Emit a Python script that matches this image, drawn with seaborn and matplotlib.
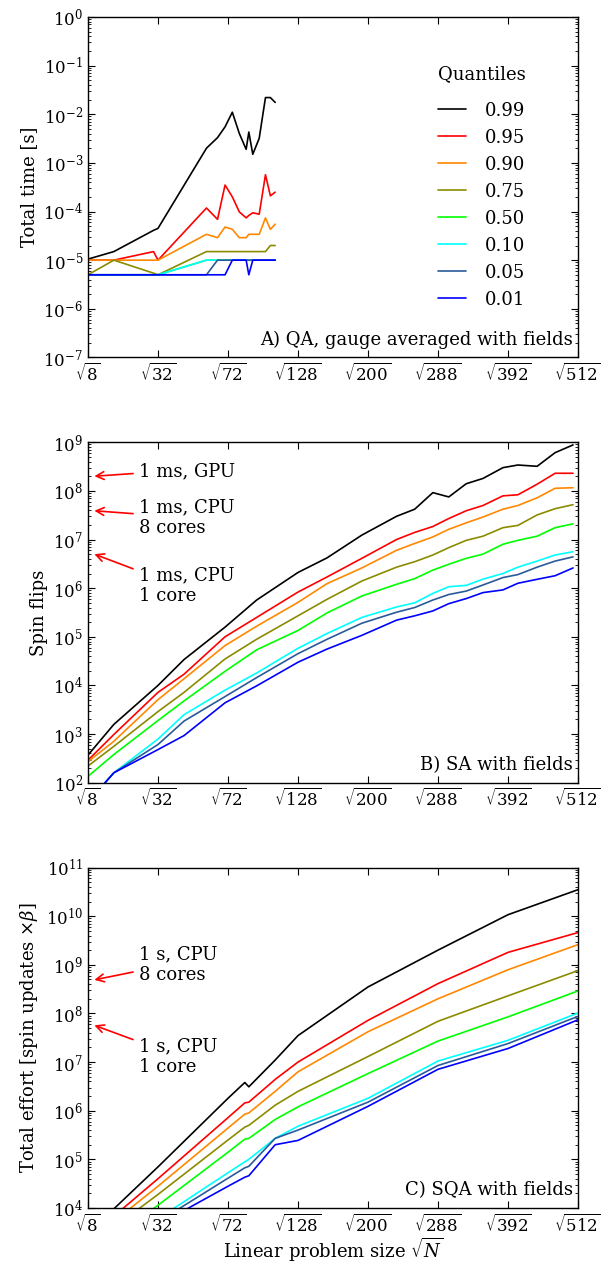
import numpy as np
import pandas as pd
import matplotlib
matplotlib.use("Agg")
import matplotlib.pyplot as plt
from matplotlib.ticker import LogLocator, NullLocator, NullFormatter
import seaborn as sns

# Quantile levels and colours
quantiles = ["0.99", "0.95", "0.90", "0.75", "0.50", "0.10", "0.05", "0.01"]
colors = ["#000000", "#ff0000", "#ff8800", "#8b8b00", "#00ff00", "#00ffff", "#2a5a9a", "#0000ff"]

# --- A) QA, gauge averaged with fields ---
qa_N = [8, 15, 30, 32, 58, 65, 70, 75, 80, 85, 87, 90, 95, 100, 104, 108]
qa_q99 = [1.05e-5, 1.5e-5, 4.1e-5, 4.5e-5, 2.0e-3, 3.3e-3, 5.5e-3, 1.1e-2, 4.0e-3, 1.9e-3, 4.3e-3, 1.5e-3, 3.2e-3, 2.2e-2, 2.2e-2, 1.75e-2]
qa_q95 = [1e-5, 1e-5, 1.5e-5, 1e-5, 1.18e-4, 6.9e-5, 3.5e-4, 2.0e-4, 9.8e-5, 7.4e-5, 8.3e-5, 9.4e-5, 8.8e-5, 5.7e-4, 2.1e-4, 2.5e-4]
qa_q90 = [1e-5, 1e-5, 1e-5, 1e-5, 3.4e-5, 2.9e-5, 4.8e-5, 4.3e-5, 2.9e-5, 2.9e-5, 3.4e-5, 3.4e-5, 3.4e-5, 7.4e-5, 4.3e-5, 5.5e-5]
qa_q75 = [5e-6, 1e-5, 5.4e-6, 5e-6, 1.5e-5, 1.5e-5, 1.5e-5, 1.5e-5, 1.5e-5, 1.5e-5, 1.5e-5, 1.5e-5, 1.5e-5, 1.5e-5, 2e-5, 2e-5]
qa_q50 = [5e-6, 5e-6, 5e-6, 5e-6, 1e-5, 1e-5, 1e-5, 1e-5, 1e-5, 1e-5, 1e-5, 1e-5, 1e-5, 1e-5, 1e-5, 1e-5]
qa_q10 = [5e-6, 5e-6, 5e-6, 5e-6, 1e-5, 1e-5, 1e-5, 1e-5, 1e-5, 1e-5, 1e-5, 1e-5, 1e-5, 1e-5, 1e-5, 1e-5]
qa_q05 = [5e-6, 5e-6, 5e-6, 5e-6, 5e-6, 1e-5, 1e-5, 1e-5, 1e-5, 1e-5, 1e-5, 1e-5, 1e-5, 1e-5, 1e-5, 1e-5]
qa_q01 = [5e-6, 5e-6, 5e-6, 5e-6, 5e-6, 5e-6, 5e-6, 1e-5, 1e-5, 1e-5, 5e-6, 1e-5, 1e-5, 1e-5, 1e-5, 1e-5]

# --- B) SA with fields ---
sa_N = [8, 15, 32, 45, 70, 93, 128, 156, 193, 234, 257, 281, 303, 328, 353, 384, 408, 440, 471, 503]
sa_q99 = [370, 1.58e3, 1.0e4, 3.4e4, 1.58e5, 5.7e5, 2.1e6, 4.2e6, 1.23e7, 3.0e7, 4.2e7, 9.2e7, 7.5e7, 1.4e8, 1.8e8, 3.0e8, 3.4e8, 3.2e8, 6.1e8, 8.8e8]
sa_q95 = [290, 980, 7.2e3, 1.7e4, 1.0e5, 2.5e5, 8.3e5, 1.7e6, 4.1e6, 1.0e7, 1.4e7, 1.85e7, 2.7e7, 3.9e7, 5.0e7, 7.9e7, 8.3e7, 1.37e8, 2.3e8, 2.3e8]
sa_q90 = [270, 710, 5.1e3, 1.37e4, 6.6e4, 1.65e5, 5.1e5, 1.24e6, 2.6e6, 6.0e6, 8.3e6, 1.13e7, 1.62e7, 2.2e7, 2.9e7, 4.2e7, 5.0e7, 7.2e7, 1.13e8, 1.16e8]
sa_q75 = [220, 560, 2.9e3, 7.2e3, 3.5e4, 8.9e4, 2.7e5, 5.9e5, 1.4e6, 2.7e6, 3.5e6, 4.8e6, 6.8e6, 9.6e6, 1.17e7, 1.75e7, 1.95e7, 3.2e7, 4.3e7, 5.2e7]
sa_q50 = [135, 380, 1.9e3, 4.8e3, 1.95e4, 5.4e4, 1.35e5, 3.1e5, 6.9e5, 1.2e6, 1.57e6, 2.35e6, 3.1e6, 4.1e6, 5.0e6, 8.0e6, 9.6e6, 1.17e7, 1.75e7, 2.1e7]
sa_q10 = [40, 160, 7.9e2, 2.5e3, 8.0e3, 1.8e4, 5.8e4, 1.17e5, 2.5e5, 4.1e5, 5.0e5, 7.8e5, 1.07e6, 1.14e6, 1.53e6, 2.0e6, 2.7e6, 3.6e6, 4.8e6, 5.6e6]
sa_q05 = [40, 160, 6.1e2, 1.85e3, 5.9e3, 1.45e4, 4.5e4, 8.9e4, 1.9e5, 3.2e5, 4.0e5, 5.7e5, 7.4e5, 8.7e5, 1.16e6, 1.65e6, 1.9e6, 2.7e6, 3.6e6, 4.4e6]
sa_q01 = [40, 160, 4.8e2, 9.3e2, 4.4e3, 9.8e3, 3.0e4, 5.6e4, 1.07e5, 2.2e5, 2.7e5, 3.4e5, 4.8e5, 6.1e5, 8.1e5, 9.2e5, 1.26e6, 1.52e6, 1.8e6, 2.6e6]

# --- C) SQA with fields ---
sqa_N = [8, 32, 72, 84, 87, 108, 128, 200, 288, 392, 512]
sqa_q99 = [3.0e3, 7.0e4, 1.8e6, 3.8e6, 3.1e6, 1.1e7, 3.5e7, 3.5e8, 2.0e9, 1.07e10, 3.5e10]
sqa_q95 = [2.4e3, 4.0e4, 7.2e5, 1.45e6, 1.5e6, 4.4e6, 1.0e7, 7.2e7, 4.1e8, 1.8e9, 4.6e9]
sqa_q90 = [2.0e3, 2.8e4, 4.4e5, 8.5e5, 9.0e5, 2.5e6, 6.3e6, 4.2e7, 2.0e8, 7.9e8, 2.6e9]
sqa_q75 = [1.6e3, 1.9e4, 2.5e5, 4.6e5, 5.0e5, 1.3e6, 2.5e6, 1.3e7, 6.9e7, 2.3e8, 7.6e8]
sqa_q50 = [1.0e3, 1.14e4, 1.4e5, 2.6e5, 2.7e5, 6.6e5, 1.2e6, 5.8e6, 2.7e7, 8.5e7, 2.9e8]
sqa_q10 = [7.4e2, 6.0e3, 5.3e4, 8.9e4, 1.0e5, 2.7e5, 4.8e5, 1.8e6, 1.05e7, 2.8e7, 1.02e8]
sqa_q05 = [7.0e2, 5.2e3, 4.1e4, 6.7e4, 7.2e4, 2.7e5, 4.0e5, 1.5e6, 8.5e6, 2.4e7, 8.7e7]
sqa_q01 = [6.0e2, 4.5e3, 2.8e4, 4.3e4, 4.6e4, 2.0e5, 2.45e5, 1.23e6, 7.1e6, 1.9e7, 7.4e7]

# x ticks: N = 8 L^2
tick_N = [8, 32, 72, 128, 200, 288, 392, 512]

# Arrow annotations (head value on y axis, arrow tail, text centre)
sa_notes = ["1 ms, GPU", "1 ms, CPU\n8 cores", "1 ms, CPU\n1 core"]
sa_head = [2.0e8, 3.9e7, 5.0e6]
sa_tail = [2.27e8, 3.4e7, 2.5e6]
sa_text = [2.5e8, 2.8e7, 1.11e6]
sqa_notes = ["1 s, CPU\n8 cores", "1 s, CPU\n1 core"]
sqa_head = [4.9e8, 5.7e7]
sqa_tail = [7.1e8, 2.9e7]
sqa_text = [1.02e9, 1.3e7]

sns.set_style("ticks")
plt.rcParams.update({
    'font.family': ['DejaVu Serif'],
    'mathtext.fontset': 'dejavuserif',
    'font.size': 13,
    'xtick.labelsize': 12, 'ytick.labelsize': 12,
    'axes.linewidth': 1.0,
    'xtick.direction': 'in', 'ytick.direction': 'in',
    'xtick.top': True, 'ytick.right': True,
    'xtick.major.size': 5, 'ytick.major.size': 5,
    'ytick.minor.size': 2.5, 'xtick.major.pad': 4,
    'xtick.color': 'black', 'ytick.color': 'black',
    'axes.edgecolor': 'black', 'text.color': 'black', 'axes.labelcolor': 'black',
})


def long_frame(N, series):
    rows = []
    for q, vals in zip(quantiles, series):
        for n, v in zip(N, vals):
            rows.append({'x': np.sqrt(n), 'value': v, 'Quantile': q})
    return pd.DataFrame(rows)


panels = [
    (qa_N, [qa_q99, qa_q95, qa_q90, qa_q75, qa_q50, qa_q10, qa_q05, qa_q01],
     (1e-7, 1e0), "Total time [s]", "A) QA, gauge averaged with fields"),
    (sa_N, [sa_q99, sa_q95, sa_q90, sa_q75, sa_q50, sa_q10, sa_q05, sa_q01],
     (1e2, 1e9), "Spin flips", "B) SA with fields"),
    (sqa_N, [sqa_q99, sqa_q95, sqa_q90, sqa_q75, sqa_q50, sqa_q10, sqa_q05, sqa_q01],
     (1e4, 1e11), r"Total effort [spin updates $\times\beta$]", "C) SQA with fields"),
]

fig, axes = plt.subplots(3, 1, figsize=(6.01, 12.64), dpi=100)
fig.subplots_adjust(left=0.1464, right=0.9617, top=0.9866, bottom=0.0443, hspace=0.249)
palette = dict(zip(quantiles, colors))

for ax, (N, series, ylim, ylabel, tag) in zip(axes, panels):
    df = long_frame(N, series)
    sns.lineplot(data=df, x='x', y='value', hue='Quantile', hue_order=quantiles,
                 palette=palette, estimator=None, sort=False, linewidth=1.2,
                 legend=False, ax=ax)
    ax.set_yscale('log')
    ax.set_ylim(*ylim)
    ax.set_xlim(np.sqrt(8), np.sqrt(512))
    ax.yaxis.set_major_locator(LogLocator(base=10, numticks=20))
    ax.yaxis.set_minor_locator(LogLocator(base=10, subs=np.arange(2, 10), numticks=20))
    ax.yaxis.set_minor_formatter(NullFormatter())
    ax.set_xticks(np.sqrt(tick_N))
    ax.set_xticklabels([rf"$\sqrt{{{n}}}$" for n in tick_N])
    ax.xaxis.set_minor_locator(NullLocator())
    ax.set_ylabel(ylabel)
    ax.set_xlabel("")
    ax.text(0.99, 0.052, tag, transform=ax.transAxes, ha='right', va='center')
    for s in ax.spines.values():
        s.set_visible(True)

# Legend in panel A
leg = axes[0].legend(axes[0].get_lines()[:len(quantiles)], quantiles, title="Quantiles",
                     loc='center left', bbox_to_anchor=(0.70, 0.50), borderaxespad=0,
                     frameon=False, handlelength=1.5, handletextpad=1.1,
                     fontsize=13, title_fontsize=13)
leg._legend_box.sep = 13

# Arrow notes on panels B and C
for ax, notes, heads, tails, texts in [(axes[1], sa_notes, sa_head, sa_tail, sa_text),
                                       (axes[2], sqa_notes, sqa_head, sqa_tail, sqa_text)]:
    trans = ax.get_yaxis_transform()
    for note, yh, yt, ytx in zip(notes, heads, tails, texts):
        ax.annotate("", xy=(0.013, yh), xytext=(0.092, yt), xycoords=trans, textcoords=trans,
                    arrowprops=dict(arrowstyle='->', color='red', lw=1.2,
                                    shrinkA=0, shrinkB=0, mutation_scale=14))
        ax.text(0.105, ytx, note, transform=trans, ha='left', va='center')

axes[2].set_xlabel(r"Linear problem size $\sqrt{N}$", labelpad=0)

fig.savefig("out.png", dpi=100)
